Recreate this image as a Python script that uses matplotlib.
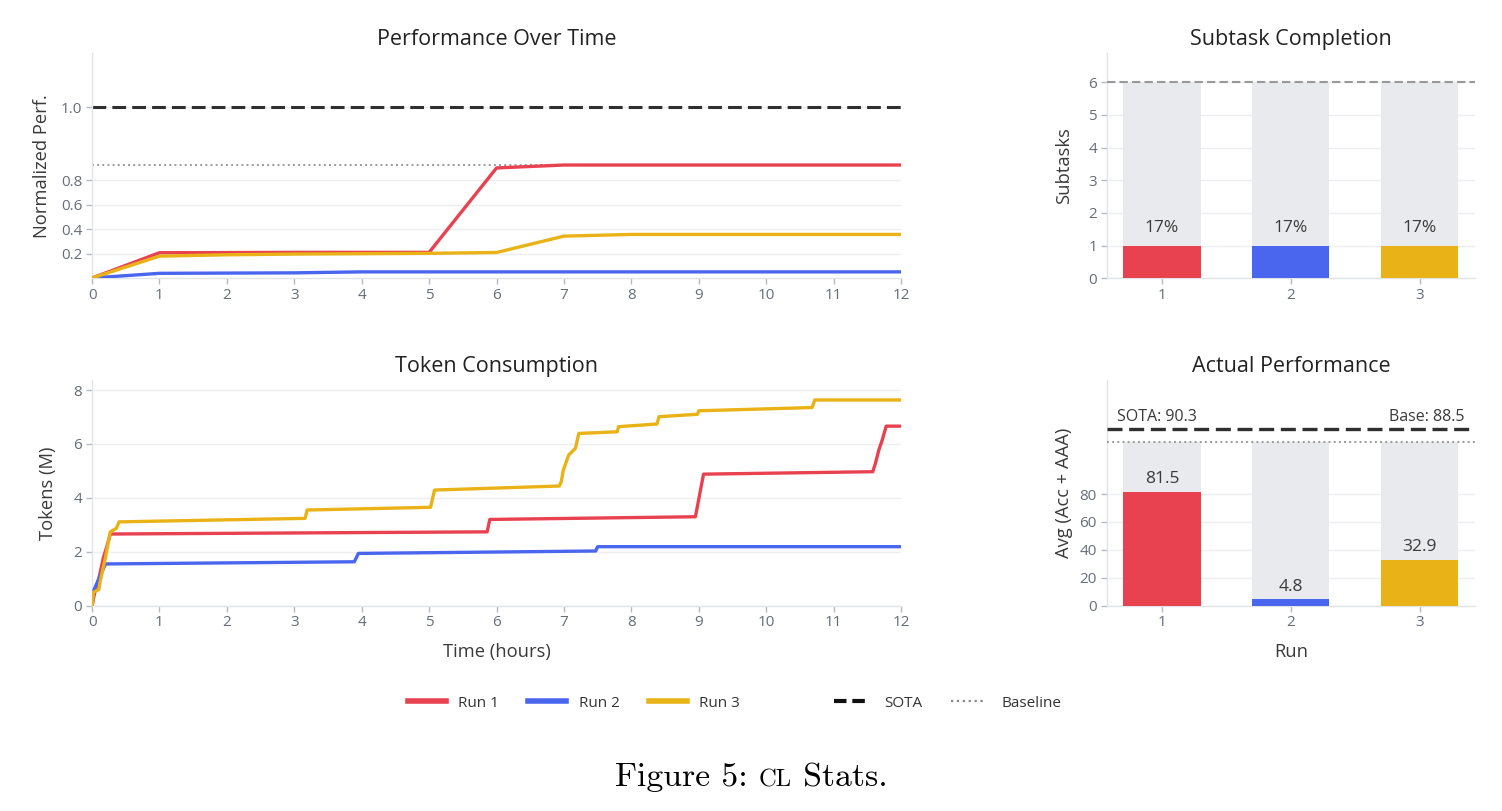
import numpy as np
import matplotlib
matplotlib.use("Agg")
import matplotlib.pyplot as plt
from matplotlib.lines import Line2D
from matplotlib.offsetbox import TextArea, HPacker, AnnotationBbox
import matplotlib.transforms as mtransforms

plt.rcParams['font.family'] = ['Open Sans', 'DejaVu Sans']

run_names = ['Run 1', 'Run 2', 'Run 3']
run_colors = ['#E8414F', '#4A66EE', '#E9B216']

# performance over time (normalized), sampled each hour
hours = list(range(13))
perf_run1 = [0, 0.207, 0.208, 0.21, 0.21, 0.21, 0.834, 0.842, 0.842, 0.842, 0.842, 0.842, 0.842]
perf_run2 = [0, 0.038, 0.040, 0.042, 0.05, 0.05, 0.05, 0.05, 0.05, 0.05, 0.05, 0.05, 0.05]
perf_run3 = [0, 0.179, 0.19, 0.196, 0.199, 0.202, 0.209, 0.343, 0.357, 0.357, 0.357, 0.357, 0.357]
perf_sota = 1.0
perf_baseline = 0.842

# token consumption (M tokens)
tok_t1 = [0, 0.04, 0.1, 0.17, 0.22, 0.27, 5.86, 5.9, 8.95, 9.07, 11.58, 11.62, 11.67, 11.72, 11.78, 12]
tok_v1 = [0, 0.5, 1.0, 1.8, 2.2, 2.66, 2.74, 3.2, 3.30, 4.88, 4.97, 5.28, 5.77, 6.14, 6.66, 6.66]
tok_t2 = [0, 0.03, 0.1, 0.2, 3.89, 3.95, 7.47, 7.5, 12]
tok_v2 = [0, 0.6, 1.0, 1.55, 1.63, 1.94, 2.03, 2.19, 2.19]
tok_t3 = [0, 0.02, 0.1, 0.12, 0.2, 0.27, 0.36, 0.4, 3.16, 3.19, 5.02, 5.08, 6.93, 6.96,
          6.99, 7.07, 7.17, 7.22, 7.79, 7.81, 8.38, 8.41, 8.98, 9.0, 10.68, 10.72, 12]
tok_v3 = [0, 0.5, 0.6, 0.9, 1.8, 2.74, 2.87, 3.11, 3.24, 3.55, 3.65, 4.29, 4.44, 4.6,
          5.03, 5.59, 5.84, 6.39, 6.45, 6.64, 6.74, 7.01, 7.10, 7.23, 7.35, 7.63, 7.63]

# subtasks
runs = [1, 2, 3]
subtasks_done = [1, 1, 1]
subtasks_total = 6
subtask_labels = ['17%', '17%', '17%']

# actual performance
actual_perf = [81.5, 4.8, 32.9]
sota_score = 90.3
base_score = 88.5

GRID = '#eceef1'
SPINE = '#e1e4e8'
TICKC = '#b5bac2'
LABC = '#666d78'
TXT = '#3a3a3a'
TITLE_FS = 15.5
LABEL_FS = 13.2
TICK_FS = 11


def style(ax):
    for s in ['top', 'right']:
        ax.spines[s].set_visible(False)
    for s in ['left', 'bottom']:
        ax.spines[s].set_color(SPINE)
        ax.spines[s].set_linewidth(1)
    ax.tick_params(colors=TICKC, length=4, width=1, labelcolor=LABC, labelsize=TICK_FS, pad=3)
    ax.yaxis.grid(True, color=GRID, lw=1)
    ax.set_axisbelow(True)


# piecewise scales used by the reference (range above the ticks is stretched)
def perf_fwd(v):
    v = np.asarray(v, dtype=float)
    return np.where(v > 0.8, 0.8 + (v - 0.8) * 3.0, v)


def perf_inv(d):
    d = np.asarray(d, dtype=float)
    return np.where(d > 0.8, 0.8 + (d - 0.8) / 3.0, d)


act_val = [-10, 82, 88.5, 90.3, 200]
act_disp = [-10, 82, 117.5, 126.4, 126.4 + 109.7 * 4.94]


def act_fwd(v):
    return np.interp(v, act_val, act_disp)


def act_inv(d):
    return np.interp(d, act_disp, act_val)


fig = plt.figure(figsize=(15.02, 8.11), dpi=100)
ax1 = fig.add_axes([0.0613, 0.6568, 0.5386, 0.2778])
ax2 = fig.add_axes([0.0613, 0.2531, 0.5386, 0.2783])
ax3 = fig.add_axes([0.7368, 0.6568, 0.2452, 0.2778])
ax4 = fig.add_axes([0.7368, 0.2531, 0.2452, 0.2783])
for a in (ax1, ax2, ax3, ax4):
    style(a)

# --- Performance Over Time
ax1.set_yscale('function', functions=(perf_fwd, perf_inv))
ax1.axhline(perf_sota, color='#2f2f2f', lw=2.2, ls='--', dashes=(4.5, 2), zorder=2)
ax1.axhline(perf_baseline, color='#9a9a9a', lw=1.4, ls=':', zorder=2)
for vals, c in zip([perf_run1, perf_run2, perf_run3], run_colors):
    ax1.plot(hours, vals, color=c, lw=2.4, zorder=3)
ax1.set_xlim(0, 12)
ax1.set_ylim(-0.003, 1.148)
ax1.set_xticks(hours)
ax1.set_yticks([0.2, 0.4, 0.6, 0.8, 1.0])
ax1.set_yticklabels(['0.2', '0.4', '0.6', '0.8', '1.0'])
ax1.set_ylabel('Normalized Perf.', fontsize=LABEL_FS, color=TXT, labelpad=7)
ax1.set_title('Performance Over Time', fontsize=TITLE_FS, color='#222222', pad=6)

# --- Token Consumption
for t, v, c in zip([tok_t1, tok_t2, tok_t3], [tok_v1, tok_v2, tok_v3], run_colors):
    ax2.plot(t, v, color=c, lw=2.4, zorder=3)
ax2.set_xlim(0, 12)
ax2.set_ylim(0, 8.37)
ax2.set_xticks(hours)
ax2.set_yticks([0, 2, 4, 6, 8])
ax2.set_ylabel('Tokens (M)', fontsize=LABEL_FS, color=TXT, labelpad=12)
ax2.set_xlabel('Time (hours)', fontsize=LABEL_FS, color=TXT, labelpad=9)
ax2.set_title('Token Consumption', fontsize=TITLE_FS, color='#222222', pad=6)

# --- Subtask Completion
ax3.bar(runs, [subtasks_total] * 3, width=0.6, color='#E9EAEE', zorder=2)
ax3.bar(runs, subtasks_done, width=0.6, color=run_colors, zorder=3)
ax3.axhline(subtasks_total, color='#999999', lw=1.5, ls='--', dashes=(4, 2), zorder=4)
for x, v, lab in zip(runs, subtasks_done, subtask_labels):
    ax3.annotate(lab, (x, v), xytext=(0, 13), textcoords='offset points',
                 ha='center', va='center', fontsize=12.5, color=TXT)
ax3.set_xlim(0.57, 3.43)
ax3.set_ylim(0, 6.89)
ax3.set_xticks(runs)
ax3.set_yticks(range(7))
ax3.set_ylabel('Subtasks', fontsize=LABEL_FS, color=TXT, labelpad=11)
ax3.set_title('Subtask Completion', fontsize=TITLE_FS, color='#222222', pad=6)

# --- Actual Performance
ax4.set_yscale('function', functions=(act_fwd, act_inv))
ax4.bar(runs, [base_score] * 3, width=0.6, color='#E9EAEE', zorder=2)
ax4.bar(runs, actual_perf, width=0.6, color=run_colors, zorder=3)
ax4.axhline(sota_score, color='#2f2f2f', lw=2.4, ls='--', dashes=(4.5, 2), zorder=4)
ax4.axhline(base_score, color='#9a9a9a', lw=1.4, ls=':', zorder=4)
for x, v in zip(runs, actual_perf):
    ax4.annotate(f'{v:.1f}', (x, v), xytext=(0, 9), textcoords='offset points',
                 ha='center', va='center', fontsize=12.5, color=TXT)
trans = mtransforms.blended_transform_factory(ax4.transAxes, ax4.transData)
ax4.annotate(f'SOTA: {sota_score}', (0.028, sota_score), xycoords=trans, xytext=(0, 9),
             textcoords='offset points', ha='left', va='center', fontsize=11.5, color=TXT)
ax4.annotate(f'Base: {base_score}', (0.972, sota_score), xycoords=trans, xytext=(0, 9),
             textcoords='offset points', ha='right', va='center', fontsize=11.5, color=TXT)
ax4.set_xlim(0.57, 3.43)
ax4.set_ylim(0, 97.45)
ax4.set_xticks(runs)
ax4.set_yticks([0, 20, 40, 60, 80])
ax4.set_yticklabels(['0', '20', '40', '60', '80'])
ax4.set_ylabel('Avg (Acc + AAA)', fontsize=LABEL_FS, color=TXT, labelpad=5)
ax4.set_xlabel('Run', fontsize=LABEL_FS, color=TXT, labelpad=9)
ax4.set_title('Actual Performance', fontsize=TITLE_FS, color='#222222', pad=6)

# --- legends
run_handles = [Line2D([], [], color=c, lw=4) for c in run_colors]
fig.legend(run_handles, run_names, loc='center', bbox_to_anchor=(0.382, 0.133),
           ncol=3, frameon=False, fontsize=11, handlelength=2.5,
           columnspacing=1.9, handletextpad=0.8, labelcolor='#333333')
ref_handles = [Line2D([], [], color='#111111', lw=3, ls='--', dashes=(3, 1.4)),
               Line2D([], [], color='#888888', lw=1.6, ls=':')]
fig.legend(ref_handles, ['SOTA', 'Baseline'], loc='center', bbox_to_anchor=(0.631, 0.133),
           ncol=2, frameon=False, fontsize=11, handlelength=2.1,
           columnspacing=1.9, handletextpad=1.2, labelcolor='#333333')

# --- caption
cap = HPacker(children=[
    TextArea('Figure 5: ', textprops=dict(family='cmr10', size=24.3, color='black')),
    TextArea('CL', textprops=dict(family='cmr10', size=17.8, color='black')),
    TextArea(' Stats.', textprops=dict(family='cmr10', size=24.3, color='black')),
], align='baseline', pad=0, sep=0)
ab = AnnotationBbox(cap, (0.5, 0.041), xycoords='figure fraction', frameon=False,
                    box_alignment=(0.5, 0.5))
fig.add_artist(ab)

fig.savefig('out.png', dpi=100)
